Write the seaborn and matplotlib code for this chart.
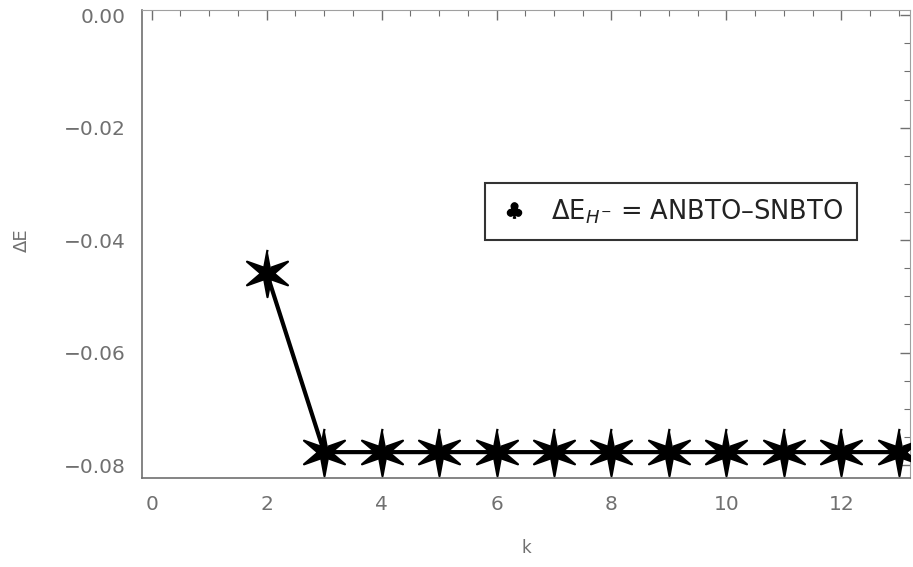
import numpy as np
import pandas as pd
import matplotlib
matplotlib.use("Agg")
import matplotlib.pyplot as plt
from matplotlib.ticker import MultipleLocator, FixedLocator
from matplotlib.lines import Line2D
import seaborn as sns

k_values = [2, 3, 4, 5, 6, 7, 8, 9, 10, 11, 12, 13]
delta_e = [-0.0458, -0.0777, -0.0777, -0.0777, -0.0777, -0.0777,
           -0.0777, -0.0777, -0.0777, -0.0777, -0.0777, -0.0777]
x_ticks = [0, 2, 4, 6, 8, 10, 12]
y_ticks = [0.00, -0.02, -0.04, -0.06, -0.08]
legend_label = r"$\Delta\mathrm{E}_{\mathit{H}^{-}}$ = ANBTO–SNBTO"

df = pd.DataFrame({"k": k_values, "dE": delta_e})

sns.set_theme(style="white")
plt.rcParams["font.family"] = ["DejaVu Sans"]
plt.rcParams["mathtext.fontset"] = "dejavusans"

# six-pointed thin star marker
n = 6
ang = np.arange(2 * n) * np.pi / n + np.pi / 2
rad = np.where(np.arange(2 * n) % 2 == 0, 1.0, 0.28)
star = np.column_stack([rad * np.cos(ang), rad * np.sin(ang)])

fig = plt.figure(figsize=(9.13, 5.67), dpi=100)
ax = fig.add_axes([0.1555, 0.157, 0.8415, 0.825])

sns.lineplot(data=df, x="k", y="dE", ax=ax, color="black", linewidth=3,
             marker=star, markersize=34, markeredgecolor="black",
             markerfacecolor="black", markeredgewidth=1.6, zorder=3)

ax.set_xlim(-0.17, 13.2)
ax.set_ylim(-0.0823, 0.0009)
ax.xaxis.set_major_locator(FixedLocator(x_ticks))
ax.yaxis.set_major_locator(FixedLocator(y_ticks))
ax.xaxis.set_minor_locator(MultipleLocator(0.5))
ax.yaxis.set_minor_locator(MultipleLocator(0.005))
ax.set_yticklabels(["0.00", "−0.02", "−0.04", "−0.06", "−0.08"])
ax.set_xticklabels([str(t) for t in x_ticks])

grey = "#707070"
for side in ["left", "bottom"]:
    ax.spines[side].set_color(grey)
    ax.spines[side].set_linewidth(1.2)
for side in ["right", "top"]:
    ax.spines[side].set_color("#a0a0a0")
    ax.spines[side].set_linewidth(0.8)

ax.tick_params(which="major", direction="in", length=7, width=1, color=grey,
               labelsize=14.5, labelcolor=grey, top=True, right=True, pad=12)
ax.tick_params(which="minor", direction="in", length=4, width=0.8, color=grey,
               top=True, right=True)

ax.set_xlabel("k", color=grey, fontsize=12, labelpad=18)
ax.set_ylabel("ΔE", color=grey, fontsize=13)
ax.yaxis.set_label_coords(-0.145, 0.508)

handle = Line2D([], [], linestyle="none", marker="$\u2663$", color="black",
                markersize=11)
leg = ax.legend([handle], [legend_label], loc="upper left",
                bbox_to_anchor=(0.447, 0.63), borderaxespad=0, frameon=True,
                fontsize=18.5, handletextpad=0.9, handlelength=1.1,
                borderpad=0.55, fancybox=False)
leg.get_frame().set_edgecolor("black")
leg.get_frame().set_linewidth(1.5)
for t in leg.get_texts():
    t.set_color("#222222")

fig.savefig("out.png", dpi=100)
